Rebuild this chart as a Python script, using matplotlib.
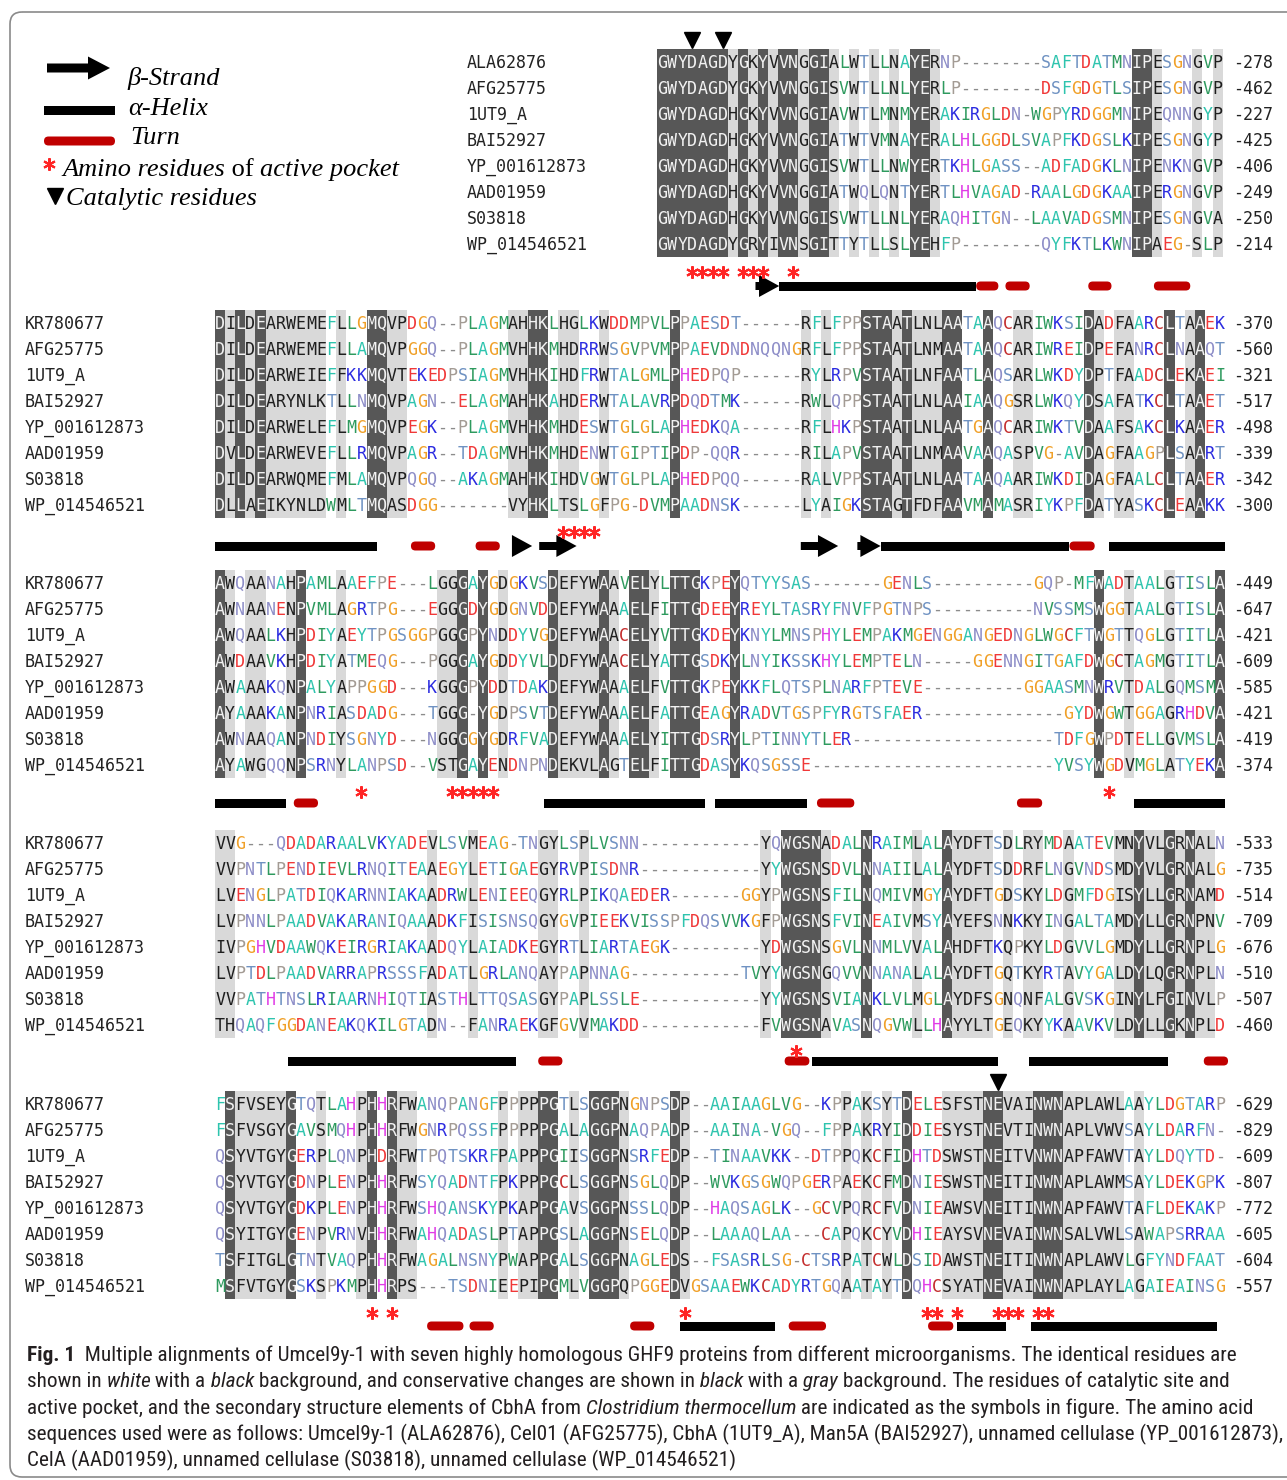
import matplotlib
matplotlib.use("Agg")
import matplotlib.pyplot as plt
from matplotlib import font_manager
from matplotlib.patches import Rectangle, FancyBboxPatch, Polygon

# ---------------------------------------------------------------- data
names = ["KR780677", "AFG25775", "1UT9_A", "BAI52927",
         "YP_001612873", "AAD01959", "S03818", "WP_014546521"]
names_top = ["ALA62876"] + names[1:]

seqs_b1 = [
    "GWYDAGDYGKYVVNGGIALWTLLNAYERNP--------SAFTDATMNIPESGNGVP",
    "GWYDAGDYGKYVVNGGISVWTLLNLYERLP--------DSFGDGTLSIPESGNGVP",
    "GWYDAGDHGKYVVNGGIAVWTLMNMYERAKIRGLDN-WGPYRDGGMNIPEQNNGYP",
    "GWYDAGDHGKYVVNGGIATWTVMNAYERALHLGGDLSVAPFKDGSLKIPESGNGYP",
    "GWYDAGDHGKYVVNGGISVWTLLNWYERTKHLGASS--ADFADGKLNIPENKNGVP",
    "GWYDAGDHGKYVVNGGIATWQLQNTYERTLHVAGAD-RAALGDGKAAIPERGNGVP",
    "GWYDAGDHGKYVVNGGISVWTLLNLYERAQHITGN--LAAVADGSMNIPESGNGVA",
    "GWYDAGDYGRYIVNSGITTYTLLSLYEHFP--------QYFKTLKWNIPAEG-SLP",
]
ends_b1 = [-278, -462, -227, -425, -406, -249, -250, -214]
# column shading, run-length coded: D = identical, g = conservative, . = none
shade_b1 = "7D 1g 1D 1g 1D 1g 2D 1g 2D 1g 1. 1g 1. 1g 1. 1g 1. 2D 1g 19. 2D 1g 3. 1g 1. 1g"
ss_b1 = [("strand", 9.75, 12.1), ("helix", 12.1, 31.6), ("turn", 31.6, 33.8),
         ("turn", 34.5, 36.9), ("turn", 42.7, 45.0), ("turn", 49.2, 52.8)]
pocket_b1 = [4, 5, 6, 7, 9, 10, 11, 14]
catalytic_b1 = [4, 7]

seqs_b2 = [
    "DILDEARWEMEFLLGMQVPDGQ--PLAGMAHHKLHGLKWDDMPVLPPAESDT------RFLFPPSTAATLNLAATAAQCARIWKSIDADFAARCLTAAEK",
    "DILDEARWEMEFLLAMQVPGGQ--PLAGMVHHKMHDRRWSGVPVMPPAEVDNDNQQNGRFLFPPSTAATLNMAATAAQCARIWREIDPEFANRCLNAAQT",
    "DILDEARWEIEFFKKMQVTEKEDPSIAGMVHHKIHDFRWTALGMLPHEDPQP------RYLRPVSTAATLNFAATLAQSARLWKDYDPTFAADCLEKAEI",
    "DILDEARYNLKTLLNMQVPAGN--ELAGMAHHKAHDERWTALAVRPDQDTMK------RWLQPPSTAATLNLAAIAAQGSRLWKQYDSAFATKCLTAAET",
    "DILDEARWELEFLMGMQVPEGK--PLAGMVHHKMHDESWTGLGLAPHEDKQA------RFLHKPSTAATLNLAATGAQCARIWKTVDAAFSAKCLKAAER",
    "DVLDEARWEVEFLLRMQVPAGR--TDAGMVHHKMHDENWTGIPTIPDP-QQR------RILAPVSTAATLNMAAVAAQASPVG-AVDAGFAAGPLSAART",
    "DILDEARWQMEFMLAMQVPQGQ--AKAGMAHHKIHDVGWTGLPLAPHEDPQQ------RALVPPSTAATLNLAATAAQAARIWKDIDAGFAALCLTAAER",
    "DLLAEIKYNLDWMLTMQASDGG-------VYHKLTSLGFPG-DVMPAADNSK------LYAIGKSTAGTFDFAAVMAMASRIYKPFDATYASKCLEAAKK",
]
ends_b2 = [-370, -560, -321, -517, -498, -339, -342, -300]
shade_b2 = ("1D 1g 1D 1g 1D 6g 1. 1g 2. 2D 2g 10. 2g 2D 1. 2g 2. 1g 6. 1D 12. 1g 1. 1g 3. "
            "3D 1g 1D 3g 2D 2. 1D 2. 2g 5. 1D 1g 1. 2g 3. 1D 1. 1g 1D 2.")
ss_b2 = [("helix", 0, 16), ("turn", 19.4, 21.8), ("turn", 25.8, 28.2),
         ("strand", 29.4, 31.4), ("strand", 32.1, 35.8), ("strand", 58, 61.7),
         ("strand", 63.6, 65.9), ("helix", 65.9, 84.6), ("turn", 84.6, 87.1),
         ("helix", 88.5, 100)]
pocket_b2 = [35, 36, 37, 38]

seqs_b3 = [
    "AWQAANAHPAMLAAEFPE---LGGGAYGDGKVSDEFYWAAVELYLTTGKPEYQTYYSAS-------GENLS----------GQP-MFWADTAALGTISLA",
    "AWNAANENPVMLAGRTPG---EGGGDYGDGNVDDEFYWAAAELFITTGDEEYREYLTASRYFNVFPGTNPS----------NVSSMSWGGTAALGTISLA",
    "AWQAALKHPDIYAEYTPGSGGPGGGPYNDDYVGDEFYWAACELYVTTGKDEYKNYLMNSPHYLEMPAKMGENGGANGEDNGLWGCFTWGTTQGLGTITLA",
    "AWDAAVKHPDIYATMEQG---PGGGAYGDDYVLDDFYWAACELYATTGSDKYLNYIKSSKHYLEMPTELN-----GGENNGITGAFDWGCTAGMGTITLA",
    "AWAAAKQNPALYAPPGGD---KGGGPYDDTDAKDEFYWAAAELFVTTGKPEYKKFLQTSPLNARFPTEVE----------GGAASMNWRVTDALGQMSMA",
    "AYAAAKANPNRIASDADG---TGGG-YGDPSVTDEFYWAAAELFATTGEAGYRADVTGSPFYRGTSFAER--------------GYDWGWTGGAGRHDVA",
    "AWNAAQANPNDIYSGNYD---NGGGGYGDRFVADEFYWAAAELYITTGDSRYLPTINNYTLER--------------------TDFGWPDTELLGVMSLA",
    "AYAWGQQNPSRNYLANPSD--VSTGAYENDNPNDEKVLAGTELFITTGDASYKQSGSSE------------------------YVSYWGDVMGLATYEKA",
]
ends_b3 = [-449, -647, -421, -609, -585, -421, -419, -374]
shade_b3 = ("1D 1g 1. 2g 2. 1g 1D 3. 1g 9. 2g 1D 1. 1D 1. 1g 4. 1D 4g 1D 1g 1. 2D 1g 1. "
            "3D 3. 1D 35. 1D 2. 1g 3. 1g 4. 1D")
ss_b3 = [("helix", 0, 7), ("turn", 7.8, 10.2), ("helix", 32.6, 48.5),
         ("helix", 49.5, 58.6), ("turn", 59.6, 63.3), ("turn", 79.4, 81.9),
         ("helix", 91, 100)]
pocket_b3 = [15, 24, 25, 26, 27, 28, 89]

seqs_b4 = [
    "VVG---QDADARAALVKYADEVLSVMEAG-TNGYLSPLVSNN------------YQWGSNADALNRAIMLALAYDFTSDLRYMDAATEVMNYVLGRNALN",
    "VVPNTLPENDIEVLRNQITEAAEGYLETIGAEGYRVPISDNR------------YYWGSNSDVLNNAIILALAYDFTSDDRFLNGVNDSMDYVLGRNALG",
    "LVENGLPATDIQKARNNIAKAADRWLENIEEQGYRLPIKQAEDER-------GGYPWGSNSFILNQMIVMGYAYDFTGDSKYLDGMFDGISYLLGRNAMD",
    "LVPNNLPAADVAKARANIQAAADKFISISNSQGYGVPIEEKVISSPFDQSVVKGFPWGSNSFVINEAIVMSYAYEFSNNKKYINGALTAMDYLLGRNPNV",
    "IVPGHVDAAWQKEIRGRIAKAADQYLAIADKEGYRTLIARTAEGK---------YDWGSNSGVLNNMLVVALAHDFTKQPKYLDGVVLGMDYLLGRNPLG",
    "LVPTDLPAADVARRAPRSSSFADATLGRLANQAYPAPNNAG-----------TVYYWGSNGQVVNNANALALAYDFTGQTKYRTAVYGALDYLQGRNPLN",
    "VVPATHTNSLRIAARNHIQTIASTHLTTQSASGYPAPLSSLE------------YYWGSNSVIANKLVLMGLAYDFSGNQNFALGVSKGINYLFGINVLP",
    "THQAQFGGDANEAKQKILGTADN--FANRAEKGFGVVMAKDD------------FVWGSNAVASNQGVWLLHAYYLTGEQKYYKAAVKVLDYLLGKNPLD",
]
ends_b4 = [-533, -735, -514, -709, -676, -510, -507, -460]
shade_b4 = ("2g 19. 1g 3. 1g 6. 2g 2. 1g 17. 1g 1. 4D 1g 3. 1D 4. 1g 2. 1D 4g 1. 1g 1. "
            "2g 2. 1g 4. 2g 1D 2g 1D 1g 1D 2g 1.")
ss_b4 = [("helix", 7.2, 29.8), ("turn", 32, 34.4), ("turn", 56.4, 58.85),
         ("helix", 59.1, 77.5), ("helix", 80.6, 94.4), ("turn", 97.9, 100.3)]
pocket_b4 = [58]

seqs_b5 = [
    "FSFVSEYGTQTLAHPHHRFWANQPANGFPPPPPGTLSGGPNGNPSDP--AAIAAGLVG--KPPAKSYTDELESFSTNEVAINWNAPLAWLAAYLDGTARP",
    "FSFVSGYGAVSMQHPHHRFWGNRPQSSFPPPPPGALAGGPNAQPADP--AAINA-VGQ--FPPAKRYIDDIESYSTNEVTINWNAPLVWVSAYLDARFN-",
    "QSYVTGYGERPLQNPHDRFWTPQTSKRFPAPPPGIISGGPNSRFEDP--TINAAVKK--DTPPQKCFIDHTDSWSTNEITVNWNAPFAWVTAYLDQYTD-",
    "QSYVTGYGDNPLENPHHRFWSYQADNTFPKPPPGCLSGGPNSGLQDP--WVKGSGWQPGERPAEKCFMDNIESWSTNEITINWNAPLAWMSAYLDEKGPK",
    "QSYVTGYGDKPLENPHHRFWSHQANSKYPKAPPGAVSGGPNSSLQDP--HAQSAGLK--GCVPQRCFVDNIEAWSVNEITINWNAPFAWVTAFLDEKAKP",
    "QSYITGYGENPVRNVHHRFWAHQADASLPTAPPGSLAGGPNSELQDP--LAAAQLAA---CAPQKCYVDHIEAYSVNEVAINWNSALVWLSAWAPSRRAA",
    "TSFITGLGTNTVAQPHHRFWAGALNSNYPWAPPGALSGGPNAGLEDS--FSASRLSG-CTSRPATCWLDSIDAWSTNEITINWNAPLAWVLGFYNDFAAT",
    "MSFVTGYGSKSPKMPHHRPS---TSDNIEEPIPGMLVGGPQPGGEDVGSAAEWKCADYRTGQAATAYTDQHCSYATNEVAINWNAPLAYLAGAIEAINSG",
]
ends_b5 = [-629, -829, -609, -807, -772, -605, -604, -557]
shade_b5 = ("1. 1D 5g 1D 2. 1g 3. 1g 1D 1. 1D 2g 8. 1g 1. 2g 2D 1. 1g 1. 3D 1g 4. 1D 1g "
            "15. 1g 1. 1g 1. 1g 1. 1D 3. 4g 2D 3g 3D 6g 1. 1g 8.")
ss_b5 = [("turn", 21, 24.6), ("turn", 25.2, 27.6), ("turn", 41.1, 43.5),
         ("helix", 46, 55.4), ("turn", 56.8, 60.5), ("turn", 70.6, 73.1),
         ("helix", 73.5, 78.3), ("helix", 80.8, 99.2)]
pocket_b5 = [16, 18, 47, 71, 72, 74, 78, 79, 80, 82, 83]
catalytic_b5 = [78]

caption = [
    [("Fig. 1", "b"), ("  Multiple alignments of Umcel9y-1 with seven highly homologous GHF9 proteins "
                       "from different microorganisms. The identical residues are", "n")],
    [("shown in", "n"), (" white", "i"), (" with a", "n"), (" black", "i"),
     (" background, and conservative changes are shown in", "n"), (" black", "i"),
     (" with a", "n"), (" gray", "i"), (" background. The residues of catalytic site and", "n")],
    [("active pocket, and the secondary structure elements of CbhA from", "n"),
     (" Clostridium thermocellum", "i"),
     (" are indicated as the symbols in figure. The amino acid", "n")],
    [("sequences used were as follows: Umcel9y-1 (ALA62876), Cel01 (AFG25775), CbhA (1UT9_A), "
      "Man5A (BAI52927), unnamed cellulase (YP_001612873),", "n")],
    [("CelA (AAD01959), unnamed cellulase (S03818), unnamed cellulase (WP_014546521)", "n")],
]

# ---------------------------------------------------------------- style
RES_COL = {
    "A": "#2ec4ae", "F": "#2ec4ae", "Y": "#2ec4ae",
    "L": "#2e9a5e", "I": "#2e9a5e", "V": "#2e9a5e", "M": "#2e9a5e", "W": "#2e9a5e",
    "S": "#6f92c2", "T": "#6f92c2",
    "N": "#8e8ec8", "Q": "#8e8ec8",
    "D": "#f03838", "E": "#f03838",
    "K": "#2b2be0", "R": "#2b2be0",
    "H": "#e03ce6", "G": "#f0a028", "P": "#a39b94", "C": "#c42e2e",
    "-": "#8c8c8c",
}
DARK, LIGHT = "#575757", "#d9d9d9"
TURN_RED = "#c00000"
MONO = "DejaVu Sans Mono"
SERIF = "Liberation Serif"
avail = {f.name for f in font_manager.fontManager.ttflist}
CAP_FONT = next(f for f in ["Liberation Sans Narrow", "Roboto Condensed", "Roboto",
                            "Liberation Sans", "DejaVu Sans"] if f in avail)

W, H = 1287, 1480
CW, RH = 10.1, 26          # column width, row height (pixels)
FS = 12
NUM_X = 1233

fig = plt.figure(figsize=(W / 100, H / 100), dpi=100)
ax = fig.add_axes([0, 0, 1, 1])
ax.set_xlim(0, W)
ax.set_ylim(H, 0)
ax.axis("off")

# outer frame
ax.add_patch(FancyBboxPatch((10, 12), 1300, 1465, boxstyle="round,pad=0,rounding_size=12",
                            fc="none", ec="#8a8a8a", lw=1.2))


def runs(code):
    out = []
    for tok in code.split():
        out.append((tok[-1], int(tok[:-1])))
    return out


def draw_strand(xa, xb, yc, shaft=4, head=11, head_len=2 * CW):
    xs = xb - min(head_len, xb - xa)
    if xs > xa + 0.5:
        pts = [(xa, yc - shaft), (xs, yc - shaft), (xs, yc - head), (xb, yc),
               (xs, yc + head), (xs, yc + shaft), (xa, yc + shaft)]
    else:
        pts = [(xa, yc - head), (xb, yc), (xa, yc + head)]
    ax.add_patch(Polygon(pts, closed=True, fc="black", ec="none"))


def draw_helix(xa, xb, yc, t=9):
    ax.add_patch(Rectangle((xa, yc - t / 2), xb - xa, t, fc="black", ec="none"))


def draw_turn(xa, xb, yc, t=9):
    ax.add_patch(FancyBboxPatch((xa, yc - t / 2), xb - xa, t,
                                boxstyle="round,pad=0,rounding_size=4.5",
                                fc=TURN_RED, ec="none"))


def draw_block(seqs, labels, ends, shade, ss, pocket, catalytic, x0, lx, top, ast_dy, ss_dy):
    n = len(seqs[0])
    shade_runs = runs(shade)
    assert sum(k for _, k in shade_runs) == n, "shade length"
    assert all(len(s) == n for s in seqs), "sequence length"
    height = RH * len(seqs)
    col_state = ""
    c = 0
    for st, k in shade_runs:
        if st in "Dg":
            ax.add_patch(Rectangle((x0 + c * CW, top), k * CW, height, lw=0,
                                   fc=DARK if st == "D" else LIGHT, ec="none"))
        col_state += st * k
        c += k
    for r, seq in enumerate(seqs):
        yb = top + RH * r + RH / 2 + 6
        ax.text(lx, yb, labels[r], fontsize=FS, family=MONO, color="#222222",
                ha="left", va="baseline")
        ax.text(NUM_X, yb, "%d" % ends[r], fontsize=FS, family=MONO, color="#222222",
                ha="left", va="baseline")
        for i, ch in enumerate(seq):
            st = col_state[i]
            if st == "D":
                colr = "#f2f2f2"
            elif st == "g":
                colr = "#1e1e1e"
            else:
                colr = RES_COL.get(ch, "#333333")
            ax.text(x0 + (i + 0.5) * CW, yb, ch, fontsize=FS, family=MONO, color=colr,
                    ha="center", va="baseline")
    bottom = top + height
    if pocket:
        ax.plot([x0 + (p - 0.5) * CW for p in pocket], [bottom + ast_dy] * len(pocket),
                ls="none", marker=(6, 2, 0), ms=9, mew=1.5, color="#ff2424")
    if catalytic:
        ax.plot([x0 + (p - 0.5) * CW for p in catalytic], [top - 9] * len(catalytic),
                ls="none", marker="v", ms=11, color="black")
    yc = bottom + ss_dy
    for kind, a, b in ss:
        xa, xb = x0 + a * CW, x0 + b * CW
        if kind == "helix":
            draw_helix(xa, xb, yc)
        elif kind == "turn":
            draw_turn(xa, xb, yc)
        else:
            draw_strand(xa, xb, yc)


blocks = [
    (seqs_b1, names_top, ends_b1, shade_b1, ss_b1, pocket_b1, catalytic_b1, 657, 467, 49, 15, 29),
    (seqs_b2, names, ends_b2, shade_b2, ss_b2, pocket_b2, [], 215, 25, 310, 14, 28),
    (seqs_b3, names, ends_b3, shade_b3, ss_b3, pocket_b3, [], 215, 25, 570, 14, 25),
    (seqs_b4, names, ends_b4, shade_b4, ss_b4, pocket_b4, [], 215, 25, 830, 13, 23),
    (seqs_b5, names, ends_b5, shade_b5, ss_b5, pocket_b5, catalytic_b5, 215, 25, 1091, 14, 27),
]
for b in blocks:
    draw_block(*b)

# ---------------------------------------------------------------- legend
LFS = 19
draw_strand(47, 110, 68, shaft=4.5, head=11.5, head_len=22)
ax.text(127, 85, "\u03b2-Strand", fontsize=LFS, family=SERIF, style="italic", va="baseline")
draw_helix(44, 115, 110)
ax.text(128, 115, "\u03b1-Helix", fontsize=LFS, family=SERIF, style="italic", va="baseline")
draw_turn(44, 115, 141)
ax.text(130, 144, "Turn", fontsize=LFS, family=SERIF, style="italic", va="baseline")
ax.plot([49], [164], ls="none", marker=(6, 2, 0), ms=9, mew=1.5, color="#ff2424")
t = ax.text(62, 176, "Amino residues", fontsize=LFS, family=SERIF, style="italic", va="baseline")
t = ax.annotate(" of ", xy=(1, 0), xycoords=t, fontsize=LFS, family=SERIF, va="bottom")
ax.annotate("active pocket", xy=(1, 0), xycoords=t, fontsize=LFS, family=SERIF,
            style="italic", va="bottom")
ax.plot([55], [196], ls="none", marker="v", ms=12, color="black")
ax.text(66, 205, "Catalytic residues", fontsize=LFS, family=SERIF, style="italic", va="baseline")

# ---------------------------------------------------------------- caption
cap_base = [1361, 1387, 1413.5, 1440, 1466]
cap_right = [1256, 1252, 1272, 1280]      # right ends of the full lines
cap_texts = []
cap_lines = []
for li, line in enumerate(caption):
    prev = None
    objs = []
    for seg, sty in line:
        kw = dict(fontsize=13, family=CAP_FONT, color="#231f20",
                  fontweight="bold" if sty == "b" else "normal",
                  style="italic" if sty == "i" else "normal")
        if prev is None:
            prev = ax.text(27, cap_base[li], seg, ha="left", va="baseline", **kw)
        else:
            prev = ax.annotate(seg, xy=(1, 0), xycoords=prev, ha="left", va="bottom", **kw)
        cap_texts.append(prev)
        objs.append(prev)
    cap_lines.append(objs)

fig.canvas.draw()
rend = fig.canvas.get_renderer()
scale = 10.0
for objs, right in zip(cap_lines, cap_right):
    w = objs[-1].get_window_extent(rend).x1 - objs[0].get_window_extent(rend).x0
    scale = min(scale, (right - 27) / w)
for t in cap_texts:
    t.set_fontsize(t.get_fontsize() * scale)

fig.savefig("out.png", dpi=100)
